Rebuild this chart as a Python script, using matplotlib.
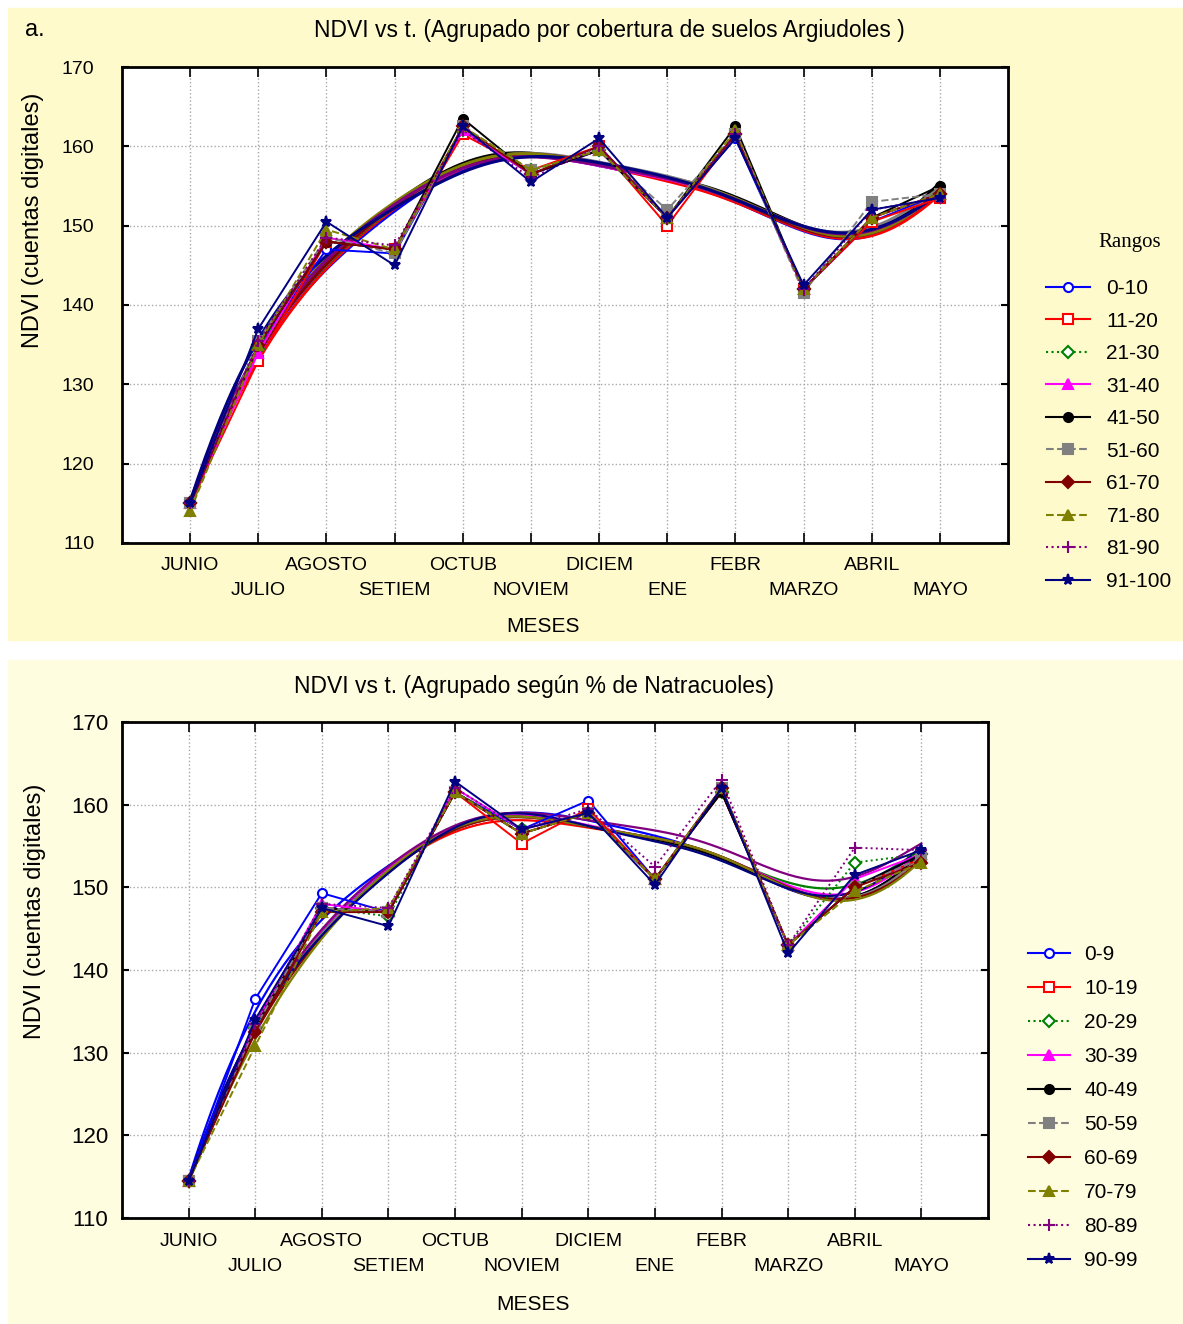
import matplotlib
matplotlib.use("Agg")
import matplotlib.pyplot as plt
import numpy as np
from matplotlib.lines import Line2D
from matplotlib.patches import Rectangle

plt.rcParams["font.family"] = ["Liberation Sans", "DejaVu Sans"]

# months (x axis)
meses = ["JUNIO", "JULIO", "AGOSTO", "SETIEM", "OCTUB", "NOVIEM",
         "DICIEM", "ENE", "FEBR", "MARZO", "ABRIL", "MAYO"]

# top panel: Argiudoles, NDVI per range
rangos_a = ["0-10", "11-20", "21-30", "31-40", "41-50",
            "51-60", "61-70", "71-80", "81-90", "91-100"]
ndvi_a = [
    [115.0, 135.0, 147.0, 146.5, 162.0, 156.5, 159.5, 151.0, 161.0, 142.0, 150.5, 154.0],
    [115.0, 133.0, 148.0, 147.0, 161.5, 157.0, 160.0, 150.0, 161.5, 142.0, 150.5, 153.5],
    [115.0, 134.5, 148.0, 147.0, 162.0, 157.0, 159.5, 151.0, 161.5, 142.0, 151.0, 154.0],
    [115.0, 134.0, 148.5, 147.0, 162.0, 156.5, 159.5, 151.0, 161.5, 142.0, 151.0, 154.0],
    [115.0, 135.0, 148.0, 147.0, 163.5, 156.5, 159.5, 151.0, 162.5, 142.0, 151.0, 155.0],
    [115.0, 135.5, 148.5, 146.5, 162.5, 157.0, 159.5, 152.0, 161.5, 141.5, 153.0, 154.0],
    [115.0, 135.0, 148.0, 147.0, 162.5, 156.5, 160.0, 151.0, 161.5, 142.0, 151.0, 154.0],
    [114.0, 135.0, 149.5, 147.0, 162.5, 157.0, 159.5, 151.0, 162.0, 142.0, 151.0, 154.0],
    [115.0, 135.5, 148.5, 147.5, 162.0, 156.0, 160.0, 151.0, 161.5, 142.0, 152.0, 153.5],
    [115.0, 137.0, 150.5, 145.0, 162.5, 155.5, 161.0, 151.0, 161.0, 142.5, 152.0, 153.5],
]

# bottom panel: Natracuoles, NDVI per range
rangos_n = ["0-9", "10-19", "20-29", "30-39", "40-49",
            "50-59", "60-69", "70-79", "80-89", "90-99"]
ndvi_n = [
    [114.5, 136.5, 149.3, 147.0, 161.5, 157.0, 160.5, 151.0, 161.5, 143.0, 150.0, 154.0],
    [114.5, 133.0, 147.5, 147.0, 161.5, 155.3, 159.5, 151.0, 161.5, 143.0, 150.0, 153.5],
    [114.5, 133.0, 147.5, 146.5, 161.5, 157.0, 159.0, 151.0, 161.5, 143.0, 153.0, 154.0],
    [114.5, 133.5, 148.0, 147.0, 162.0, 157.0, 159.0, 151.0, 162.0, 143.0, 151.0, 154.0],
    [114.5, 133.0, 147.5, 147.0, 161.5, 156.5, 159.0, 151.0, 161.5, 143.0, 150.0, 154.0],
    [114.5, 133.0, 147.5, 147.0, 161.5, 156.5, 159.0, 151.0, 162.0, 143.0, 150.0, 153.5],
    [114.5, 132.5, 147.0, 147.0, 161.5, 156.5, 159.0, 151.0, 162.0, 143.0, 150.0, 153.0],
    [114.5, 130.8, 147.0, 147.5, 161.5, 156.5, 159.0, 151.0, 162.0, 143.0, 149.5, 153.0],
    [114.5, 133.5, 148.0, 147.5, 162.0, 157.0, 159.5, 152.5, 163.0, 143.0, 154.8, 154.5],
    [114.5, 134.0, 147.5, 145.3, 162.8, 157.0, 159.0, 150.3, 162.0, 142.0, 151.5, 154.5],
]

colores = ["#0000ff", "#ff0000", "#008000", "#ff00ff", "#000000",
           "#808080", "#800000", "#808000", "#800080", "#000080"]
marcas = ["o", "s", "D", "^", "o", "s", "D", "^", "+", "*"]
relleno = [False, False, False, True, True, True, True, True, True, True]
estilos = ["-", "-", ":", "-", "-", "--", "-", "--", ":", "-"]


def dwls(x, y, xs, bw=1.4):
    # distance weighted local quadratic fit
    out = []
    for x0 in xs:
        w = np.exp(-0.5 * ((x - x0) / bw) ** 2)
        c = np.polyfit(x, y, 2, w=np.sqrt(w))
        out.append(np.polyval(c, x0))
    return np.array(out)


W, H = 1183, 1324
fig = plt.figure(figsize=(W / 100, H / 100), dpi=100)
fig.patch.set_facecolor("white")

# cream panels
fig.patches.append(Rectangle((8 / W, 1 - 640 / H), 1 - 8 / W, 632 / H,
                             transform=fig.transFigure, color="#fefacc", zorder=-10))
fig.patches.append(Rectangle((8 / W, 0), 1 - 8 / W, 1 - 660 / H,
                             transform=fig.transFigure, color="#fffde0", zorder=-10))


def panel(rect, datos, ylab_pad, ysize, fit_lw, xpad):
    ax = fig.add_axes(rect)
    ax.set_facecolor("white")
    x = np.arange(1, 13)
    xs = np.linspace(1, 12, 200)
    for i, serie in enumerate(datos):
        y = np.array(serie)
        ax.plot(xs, dwls(x, y, xs), color=colores[i], lw=fit_lw, zorder=3)
    for i, serie in enumerate(datos):
        ax.plot(x, serie, color=colores[i], ls=estilos[i], lw=1.4,
                marker=marcas[i], ms=8 if marcas[i] in "+*" else 6.5,
                mfc=colores[i] if relleno[i] else "white",
                mec=colores[i], mew=1.5, zorder=4)
    ax.set_xlim(0, 13)
    ax.set_ylim(110, 170)
    ax.set_yticks(np.arange(110, 171, 10))
    ax.set_xticks(x[::2])
    ax.set_xticklabels(meses[::2])
    ax.set_xticks(x[1::2], minor=True)
    ax.set_xticklabels(meses[1::2], minor=True)
    ax.tick_params(axis="x", which="major", direction="in", top=True,
                   length=7, width=1.2, labelsize=14, pad=xpad)
    ax.tick_params(axis="x", which="minor", direction="in", top=True,
                   length=7, width=1.2, labelsize=14, pad=xpad + 18)
    ax.tick_params(axis="y", direction="in", right=True, length=5,
                   width=1.5, labelsize=ysize, pad=ylab_pad)
    ax.grid(True, which="both", ls=":", color="#a8a8a8", lw=1)
    for s in ax.spines.values():
        s.set_linewidth(2)
    return ax


ax1 = panel([122 / W, 1 - 543 / H, 886 / W, 476 / H], ndvi_a, 20, 14, 2.2, 10)
ax2 = panel([122 / W, 1 - 1218 / H, 866 / W, 496 / H], ndvi_n, 10, 16, 1.6, 11)

# titles and labels
fig.text(25 / W, 1 - 30 / H, "a.", fontsize=17, va="center")
fig.text(609 / W, 1 - 30 / H,
         "NDVI vs t. (Agrupado por cobertura de suelos Argiudoles )",
         fontsize=16.5, ha="center", va="center")
fig.text(534 / W, 1 - 686 / H, "NDVI vs t. (Agrupado según % de Natracuoles)",
         fontsize=16.5, ha="center", va="center")
fig.text(33 / W, 1 - 220 / H, "NDVI (cuentas digitales)", rotation=90,
         fontsize=17, ha="center", va="center")
fig.text(35 / W, 1 - 911 / H, "NDVI (cuentas digitales)", rotation=90,
         fontsize=17, ha="center", va="center")
fig.text(543 / W, 1 - 627 / H, "MESES", fontsize=15, ha="center", va="center")
fig.text(533 / W, 1 - 1305 / H, "MESES", fontsize=15, ha="center", va="center")
fig.text(1130 / W, 1 - 242 / H, "Rangos", fontsize=15, ha="center", va="center",
         family="Liberation Serif")


def handles():
    return [Line2D([], [], color=colores[i], ls=estilos[i], lw=1.5,
                   marker=marcas[i], ms=8 if marcas[i] in "+*" else 6.5,
                   mfc=colores[i] if relleno[i] else "white",
                   mec=colores[i], mew=1.5) for i in range(10)]


fig.legend(handles(), rangos_a, loc="upper left",
           bbox_to_anchor=(1046 / W, 1 - 279 / H), frameon=False,
           fontsize=15, labelspacing=0.65, handlelength=2.1,
           handletextpad=0.8, borderpad=0, borderaxespad=0)
fig.legend(handles(), rangos_n, loc="upper left",
           bbox_to_anchor=(1028 / W, 1 - 945 / H), frameon=False,
           fontsize=15, labelspacing=0.72, handlelength=2.0,
           handletextpad=0.7, borderpad=0, borderaxespad=0)

fig.savefig("out.png", dpi=100)
